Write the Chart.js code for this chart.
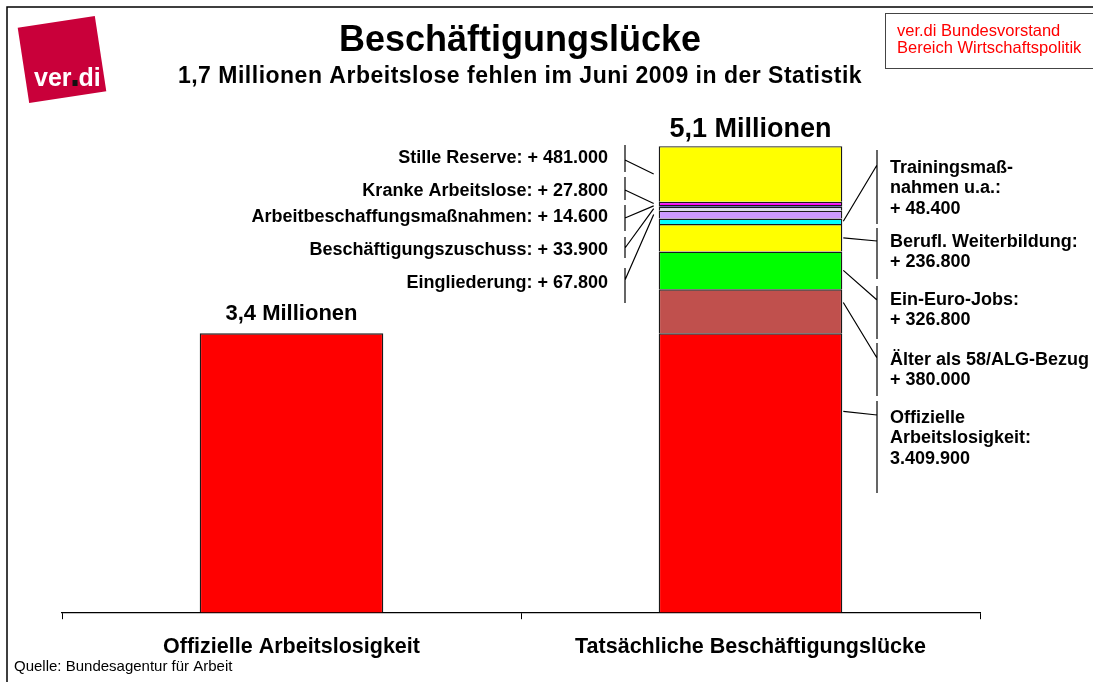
<!DOCTYPE html>
<html lang="de">
<head>
  <meta charset="UTF-8">
  <title>Beschäftigungslücke</title>
  <script src="https://cdn.jsdelivr.net/npm/chart.js"></script>
  <style>
    body {
      margin: 0;
      padding: 0;
      background: #fff;
    }
    #wrap {
      width: 1093px;
      height: 682px;
      position: relative;
    }
  </style>
</head>
<body>
  <div id="wrap"><canvas id="chart"></canvas></div>

  <script>
    // categories on the x axis
    const categories = ['Offizielle Arbeitslosigkeit', 'Tatsächliche Beschäftigungslücke'];

    // official unemployment (both bars) and the hidden parts stacked on top (2nd bar only)
    const offiziell = [3409900, 3409900];
    const segmentNames = [
      'Älter als 58/ALG-Bezug', 'Ein-Euro-Jobs', 'Berufl. Weiterbildung', 'Trainingsmaßnahmen u.a.',
      'Eingliederung', 'Beschäftigungszuschuss', 'Arbeitbeschaffungsmaßnahmen', 'Kranke Arbeitslose', 'Stille Reserve'
    ];
    const zusatz = [380000, 326800, 236800, 48400, 67800, 33900, 14600, 27800, 481000];
    const segmentColors = ['#C0504D', '#00FF00', '#FFFF00', '#00FFFF', '#CC99FF', '#DCDCF2', '#000080', '#FF00FF', '#FFFF00'];

    const totalLabels = ['3,4 Millionen', '5,1 Millionen'];

    // label texts around the stacked bar (dataset index -> text lines)
    const leftLabelSets = [9, 8, 7, 6, 5];
    const leftLabelNames = ['Stille Reserve:', 'Kranke Arbeitslose:', 'Arbeitbeschaffungsmaßnahmen:', 'Beschäftigungszuschuss:', 'Eingliederung:'];
    const rightLabelSets = [4, 3, 2, 1, 0];
    const rightLabelNames = [
      ['Trainingsmaß-', 'nahmen u.a.:'],
      ['Berufl. Weiterbildung:'],
      ['Ein-Euro-Jobs:'],
      ['Älter als 58/ALG-Bezug'],
      ['Offizielle', 'Arbeitslosigkeit:']
    ];

    const FONT = '"Liberation Sans", Arial, sans-serif';

    function fmt(n) {
      return String(n).replace(/\B(?=(\d{3})+(?!\d))/g, '.');
    }

    const datasets = [{
      label: 'Offizielle Arbeitslosigkeit',
      data: offiziell,
      backgroundColor: '#FF0000'
    }];
    zusatz.forEach((v, i) => {
      datasets.push({
        label: segmentNames[i],
        data: [null, v],
        backgroundColor: segmentColors[i]
      });
    });
    datasets.forEach(d => {
      d.borderColor = '#1a1a1a';
      d.borderWidth = 1.4;
      d.barPercentage = 0.4;
      d.categoryPercentage = 1;
    });

    // value of a dataset in a category, and sum of those below it
    function segRange(chart, dsIndex, cat) {
      let below = 0;
      for (let i = 0; i < dsIndex; i++) below += chart.data.datasets[i].data[cat] || 0;
      return [below, below + (chart.data.datasets[dsIndex].data[cat] || 0)];
    }

    const decorations = {
      id: 'decorations',
      afterDraw(chart) {
        const ctx = chart.ctx;
        const y = chart.scales.y;
        const area = chart.chartArea;
        ctx.save();

        // page frame
        ctx.strokeStyle = '#000';
        ctx.lineWidth = 1.5;
        ctx.beginPath();
        ctx.moveTo(7, 682);
        ctx.lineTo(7, 7);
        ctx.lineTo(1093, 7);
        ctx.stroke();

        // logo
        ctx.save();
        ctx.translate(62, 59.5);
        ctx.rotate(-8.7 * Math.PI / 180);
        ctx.fillStyle = '#C9003A';
        ctx.fillRect(-39, -38, 78, 76);
        ctx.restore();
        ctx.fillStyle = '#fff';
        ctx.font = 'bold 25px ' + FONT;
        ctx.textBaseline = 'alphabetic';
        ctx.textAlign = 'left';
        ctx.fillText('ver', 34, 86);
        const wVer = ctx.measureText('ver').width;
        ctx.fillStyle = '#111';
        ctx.fillRect(34 + wVer + 1, 80, 5, 6);
        ctx.fillStyle = '#fff';
        ctx.fillText('di', 34 + wVer + 7, 86);

        // top right box
        ctx.strokeStyle = '#444';
        ctx.lineWidth = 1;
        ctx.strokeRect(885.5, 13.5, 220, 55);
        ctx.fillStyle = '#FF0000';
        ctx.font = '16.5px ' + FONT;
        ctx.textBaseline = 'middle';
        ctx.fillText('ver.di Bundesvorstand', 897, 31);
        ctx.fillText('Bereich Wirtschaftspolitik', 897, 48);

        // titles
        ctx.fillStyle = '#000';
        ctx.textAlign = 'center';
        ctx.font = 'bold 36px ' + FONT;
        ctx.fillText('Beschäftigungslücke', 520, 41);
        ctx.font = 'bold 23px ' + FONT;
        ctx.letterSpacing = '0.5px';
        ctx.fillText('1,7 Millionen Arbeitslose fehlen im Juni 2009 in der Statistik', 520, 77);
        ctx.letterSpacing = '0px';

        // totals above the bars
        const last = chart.data.datasets.length - 1;
        [0, 1].forEach(cat => {
          const top = y.getPixelForValue(segRange(chart, last, cat)[1]);
          const bar = chart.getDatasetMeta(0).data[cat];
          ctx.font = cat === 0 ? 'bold 22px ' + FONT : 'bold 27px ' + FONT;
          ctx.fillText(totalLabels[cat], bar.x, top - (cat === 0 ? 19 : 17));
        });

        const bar2 = chart.getDatasetMeta(0).data[1];
        const barL = bar2.x - bar2.width / 2;
        const barR = bar2.x + bar2.width / 2;

        function segPx(ds, fracFromTop) {
          const r = segRange(chart, ds, 1);
          const bot = Math.min(y.getPixelForValue(r[0]), area.bottom);
          const top = y.getPixelForValue(r[1]);
          return top + (bot - top) * fracFromTop;
        }

        // left labels
        const lTextY = [158, 191, 217, 250, 283];
        const lMark = [[145, 172], [177, 200], [205, 231], [237, 258], [268, 303]];
        const lLead = [160, 190, 218, 248, 280];
        ctx.font = 'bold 18px ' + FONT;
        ctx.textAlign = 'right';
        ctx.lineWidth = 1.2;
        ctx.strokeStyle = '#000';
        leftLabelSets.forEach((ds, i) => {
          ctx.fillText(leftLabelNames[i] + ' + ' + fmt(chart.data.datasets[ds].data[1]), 608, lTextY[i]);
          ctx.beginPath();
          ctx.moveTo(625, lMark[i][0]);
          ctx.lineTo(625, lMark[i][1]);
          ctx.moveTo(625, lLead[i]);
          ctx.lineTo(barL - 5, segPx(ds, 0.5));
          ctx.stroke();
        });

        // right labels
        const rTextY = [168, 242, 300, 360, 418];
        const rMark = [[150, 224], [228, 279], [286, 339], [343, 396], [401, 493]];
        const rLead = [165, 241, 300, 358, 415];
        const rFrac = [0.5, 0.5, 0.5, 0.3, 0.28];
        ctx.textAlign = 'left';
        rightLabelSets.forEach((ds, i) => {
          const v = chart.data.datasets[ds].data[1];
          const lines = rightLabelNames[i].concat([(ds === 0 ? '' : '+ ') + fmt(v)]);
          lines.forEach((t, k) => ctx.fillText(t, 890, rTextY[i] + k * 20.5));
          ctx.beginPath();
          ctx.moveTo(877, rMark[i][0]);
          ctx.lineTo(877, rMark[i][1]);
          ctx.moveTo(877, rLead[i]);
          ctx.lineTo(barR + 1, segPx(ds, rFrac[i]));
          ctx.stroke();
        });

        // source
        ctx.font = '15px ' + FONT;
        ctx.fillText('Quelle: Bundesagentur für Arbeit', 14, 667);
        ctx.restore();
      }
    };

    new Chart(document.getElementById('chart'), {
      type: 'bar',
      data: { labels: categories, datasets: datasets },
      options: {
        responsive: true,
        maintainAspectRatio: false,
        animation: false,
        layout: { padding: { left: 62, right: 113, top: 103, bottom: 7 } },
        plugins: {
          legend: { display: false },
          tooltip: { enabled: false }
        },
        scales: {
          x: {
            stacked: true,
            grid: { drawOnChartArea: false, drawTicks: true, tickLength: 7, color: '#000', offset: true },
            border: { display: true, color: '#000', width: 1.2 },
            ticks: { color: '#000', padding: 15, font: { family: FONT, size: 21.5, weight: 'bold' } }
          },
          y: {
            stacked: true,
            display: false,
            min: 1000000,
            max: 5400000
          }
        }
      },
      plugins: [decorations]
    });
  </script>
</body>
</html>
